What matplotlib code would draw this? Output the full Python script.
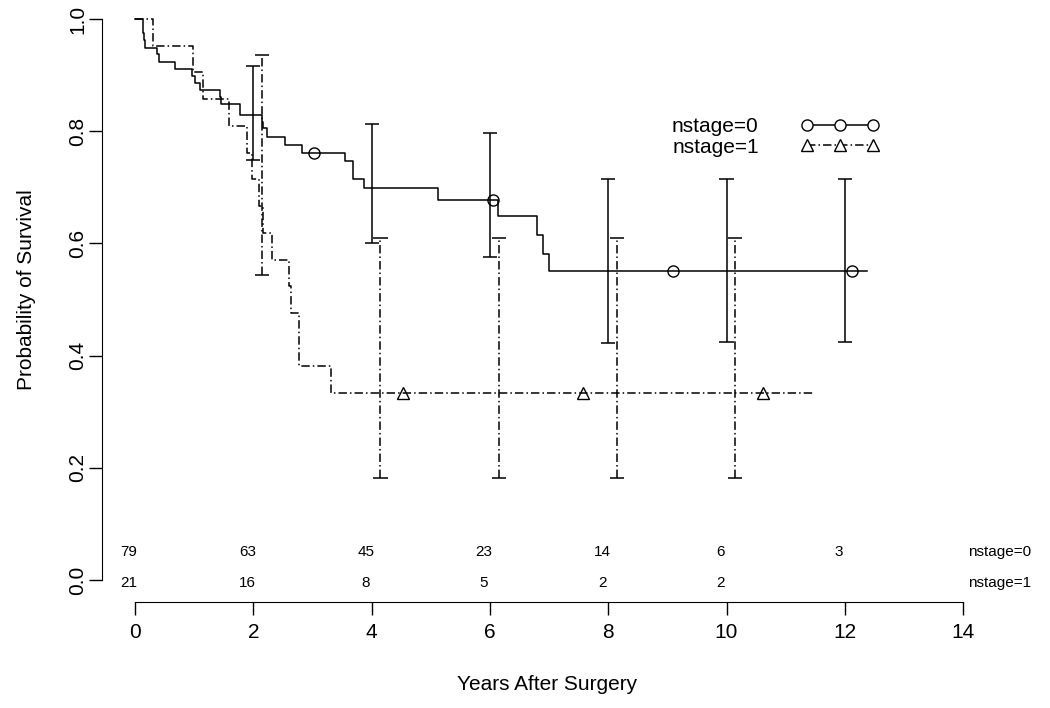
import numpy as np
import matplotlib
matplotlib.use('Agg')
import matplotlib.pyplot as plt
from matplotlib.lines import Line2D

plt.rcParams['font.family'] = ['Liberation Sans', 'DejaVu Sans']

# ============================================================================
# Data
# ============================================================================

# Kaplan-Meier steps: time of each drop and survival after it
nstage0_time = [0, 0.13, 0.16, 0.17, 0.37, 0.41, 0.68, 0.96, 1.01, 1.10, 1.43, 1.45,
                1.78, 2.14, 2.17, 2.23, 2.54, 2.83, 3.55, 3.69, 3.87, 5.13, 6.13,
                6.79, 6.89, 7.00, 12.37]
nstage0_surv = [1.0, 0.975, 0.962, 0.949, 0.937, 0.924, 0.911, 0.899, 0.886, 0.873,
                0.861, 0.848, 0.829, 0.817, 0.805, 0.790, 0.775, 0.762, 0.747, 0.715,
                0.699, 0.678, 0.648, 0.615, 0.582, 0.550, 0.550]

nstage1_time = [0, 0.30, 0.975, 1.155, 1.59, 1.90, 1.97, 2.10, 2.17, 2.31, 2.60, 2.63,
                2.78, 3.31, 11.47]
nstage1_surv = [1.0, 0.952, 0.905, 0.857, 0.810, 0.762, 0.714, 0.667, 0.619, 0.571,
                0.524, 0.476, 0.381, 0.333, 0.333]

# curve label symbols
nstage0_mark_t = [3.02, 6.05, 9.09, 12.12]
nstage1_mark_t = [4.53, 7.57, 10.61]

# confidence bars
ci0_time = [2, 4, 6, 8, 10, 12]
ci0_lower = [0.749, 0.600, 0.576, 0.423, 0.424, 0.424]
ci0_upper = [0.917, 0.813, 0.797, 0.714, 0.714, 0.714]

ci1_time = [2, 4, 6, 8, 10]
ci1_lower = [0.544, 0.182, 0.182, 0.182, 0.182]
ci1_upper = [0.935, 0.609, 0.609, 0.609, 0.609]

# numbers at risk
risk_time0 = [0, 2, 4, 6, 8, 10, 12]
risk0 = [79, 63, 45, 23, 14, 6, 3]
risk_time1 = [0, 2, 4, 6, 8, 10]
risk1 = [21, 16, 8, 5, 2, 2]

labels = ['nstage=0', 'nstage=1']
x_ticks = [0, 2, 4, 6, 8, 10, 12, 14]
y_ticks = [0.0, 0.2, 0.4, 0.6, 0.8, 1.0]

DASHDOT = (0, (5.5, 2, 1, 2))
CI1_SHIFT = 0.15   # second group's bars drawn a bit to the right
CAP = 0.12         # half width of bar caps (years)


def surv_at(times, surv, t):
    """value of the step function at t"""
    idx = np.searchsorted(times, t, side='right') - 1
    return np.asarray(surv)[idx]


fig = plt.figure(figsize=(10.5, 7.08), dpi=100)
ax = fig.add_axes([0.0967, 0.1501, 0.8938, 0.8499])

# survival curves
ax.step(nstage0_time, nstage0_surv, where='post', color='black', lw=1.1)
ax.step(nstage1_time, nstage1_surv, where='post', color='black', lw=1.1, linestyle=DASHDOT)

# symbols along the curves
ax.plot(nstage0_mark_t, surv_at(nstage0_time, nstage0_surv, nstage0_mark_t), 'o',
        color='black', mfc='none', ms=8, mew=1)
ax.plot(nstage1_mark_t, surv_at(nstage1_time, nstage1_surv, nstage1_mark_t), '^',
        color='black', mfc='none', ms=8, mew=1)

# confidence bars
ax.vlines(ci0_time, ci0_lower, ci0_upper, color='black', lw=1.1)
for t, lo, hi in zip(ci0_time, ci0_lower, ci0_upper):
    ax.hlines([lo, hi], t - CAP, t + CAP, color='black', lw=1.1)

x1 = np.array(ci1_time) + CI1_SHIFT
ax.vlines(x1, ci1_lower, ci1_upper, color='black', lw=1.1, linestyles=[DASHDOT])
for t, lo, hi in zip(x1, ci1_lower, ci1_upper):
    ax.hlines([lo, hi], t - CAP, t + CAP, color='black', lw=1.1)

# numbers at risk
narrow = ['Liberation Sans Narrow', 'Liberation Sans', 'DejaVu Sans']
for t, n in zip(risk_time0, risk0):
    ax.text(t - 0.1, 0.05, str(n), ha='center', va='center', fontsize=11, family=narrow)
for t, n in zip(risk_time1, risk1):
    ax.text(t - 0.1, -0.005, str(n), ha='center', va='center', fontsize=11, family=narrow)
ax.text(14.08, 0.05, labels[0], ha='left', va='center', fontsize=11, family=narrow)
ax.text(14.08, -0.005, labels[1], ha='left', va='center', fontsize=11, family=narrow)

# legend: text first, symbols after
handles = [
    Line2D([], [], color='black', lw=1.1, marker='o', mfc='white', ms=8),
    Line2D([], [], color='black', lw=1.1, linestyle=DASHDOT, marker='^', mfc='white', ms=8),
]
ax.legend(handles, labels, loc='center left', bbox_to_anchor=(0.64, 0.8065),
          bbox_transform=fig.transFigure, frameon=False, markerfirst=False,
          numpoints=3, handlelength=3.8, handletextpad=2.0, labelspacing=0.05,
          borderpad=0, borderaxespad=0, fontsize=15)

# axes in R style: detached lines, outward ticks
ax.set_xlim(-0.566, 15.30)
ax.set_ylim(-0.0387, 1.0339)
for side in ['top', 'right']:
    ax.spines[side].set_visible(False)
ax.spines['left'].set_bounds(0, 1)
ax.spines['bottom'].set_bounds(0, 14)
ax.set_xticks(x_ticks)
ax.set_yticks(y_ticks)
ax.set_xticklabels([str(t) for t in x_ticks])
ax.set_yticklabels([f'{v:.1f}' for v in y_ticks], rotation=90, va='center')
ax.tick_params(axis='both', direction='out', length=9.5, width=1, labelsize=15)
ax.tick_params(axis='x', pad=6)
ax.tick_params(axis='y', pad=1)

fig.text(546.7 / 1050, 1 - 690 / 708, 'Years After Surgery', ha='center', va='baseline', fontsize=15)
fig.text(27 / 1050, 1 - 290 / 708, 'Probability of Survival', ha='center', va='center',
         rotation=90, fontsize=15)

fig.savefig('out.png', dpi=100)
plt.close(fig)
